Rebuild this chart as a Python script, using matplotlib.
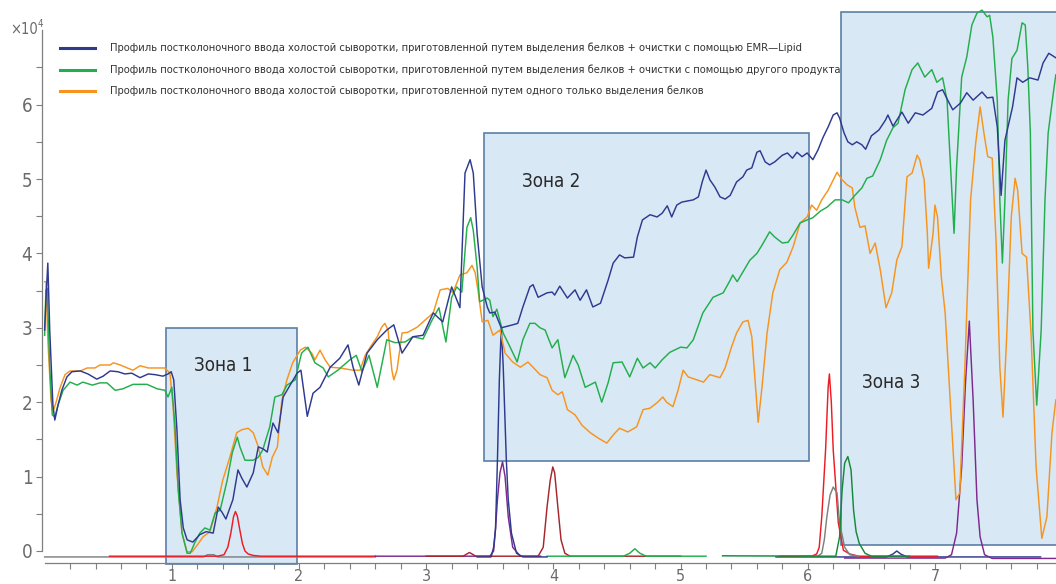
import numpy as np
import matplotlib
matplotlib.use("Agg")
import matplotlib.pyplot as plt
from matplotlib import font_manager as fm
from matplotlib.lines import Line2D
from matplotlib.patches import Rectangle

# ---------------------------------------------------------------- data
# Post-column infusion profiles (signal, x10^4) versus retention time (min)
emr_x = [0.0, 0.01, 0.025, 0.04, 0.065, 0.08, 0.105, 0.135, 0.175, 0.215, 0.28, 0.34, 0.41, 0.46,
         0.515, 0.575, 0.63, 0.685, 0.75, 0.815, 0.87, 0.93, 0.97, 0.995, 1.015, 1.04, 1.065, 1.09,
         1.12, 1.165, 1.22, 1.27, 1.325, 1.365, 1.395, 1.425, 1.48, 1.52, 1.55, 1.59, 1.64, 1.68,
         1.72, 1.75, 1.795, 1.835, 1.875, 1.93, 1.985, 2.015, 2.065, 2.11, 2.165, 2.245, 2.32, 2.385,
         2.425, 2.47, 2.535, 2.615, 2.69, 2.745, 2.81, 2.895, 2.975, 3.055, 3.13, 3.2, 3.265, 3.305,
         3.345, 3.37, 3.4, 3.44, 3.48, 3.5, 3.54, 3.59, 3.68, 3.72, 3.76, 3.815, 3.84, 3.88, 3.95,
         3.99, 4.01, 4.05, 4.11, 4.17, 4.21, 4.26, 4.31, 4.37, 4.43, 4.47, 4.52, 4.56, 4.63, 4.66,
         4.7, 4.76, 4.815, 4.855, 4.895, 4.93, 4.97, 5.01, 5.1, 5.14, 5.17, 5.2, 5.23, 5.27, 5.31,
         5.35, 5.39, 5.44, 5.49, 5.52, 5.56, 5.6, 5.625, 5.665, 5.7, 5.74, 5.8, 5.84, 5.88, 5.915,
         5.955, 5.995, 6.04, 6.08, 6.12, 6.16, 6.2, 6.23, 6.25, 6.285, 6.315, 6.35, 6.385, 6.425,
         6.455, 6.5, 6.56, 6.61, 6.63, 6.67, 6.74, 6.79, 6.845, 6.905, 6.975, 7.02, 7.06, 7.1, 7.14,
         7.2, 7.25, 7.3, 7.37, 7.41, 7.455, 7.49, 7.52, 7.55, 7.61, 7.645, 7.69, 7.745, 7.81, 7.85,
         7.895, 7.95]
emr_y = [2.97, 3.37, 3.87, 2.97, 1.96, 1.76, 1.96, 2.16, 2.34, 2.41, 2.42, 2.38, 2.31, 2.35,
         2.42, 2.41, 2.38, 2.39, 2.33, 2.38, 2.37, 2.35, 2.38, 2.41, 2.30, 1.63, 0.69, 0.31,
         0.15, 0.12, 0.22, 0.26, 0.24, 0.59, 0.52, 0.43, 0.69, 1.09, 0.98, 0.86, 1.05, 1.40,
         1.37, 1.33, 1.72, 1.59, 2.07, 2.23, 2.39, 2.43, 1.81, 2.12, 2.20, 2.47, 2.59, 2.77,
         2.47, 2.23, 2.66, 2.84, 2.97, 3.04, 2.66, 2.88, 2.90, 3.20, 3.08, 3.55, 3.27, 5.08,
         5.26, 5.08, 4.27, 3.55, 3.28, 3.20, 3.21, 3.00, 3.04, 3.06, 3.28, 3.55, 3.58, 3.41, 3.47,
         3.48, 3.44, 3.56, 3.40, 3.51, 3.37, 3.51, 3.28, 3.33, 3.64, 3.87, 3.98, 3.94, 3.95, 4.22,
         4.45, 4.52, 4.49, 4.54, 4.64, 4.49, 4.65, 4.69, 4.72, 4.76, 4.96, 5.12, 4.99, 4.89, 4.76,
         4.73, 4.78, 4.96, 5.03, 5.12, 5.15, 5.36, 5.38, 5.23, 5.19, 5.23, 5.32, 5.35, 5.28, 5.36,
         5.30, 5.35, 5.26, 5.39, 5.56, 5.70, 5.86, 5.89, 5.82, 5.62, 5.50, 5.46, 5.50, 5.46,
         5.40, 5.58, 5.66, 5.79, 5.86, 5.71, 5.90, 5.75, 5.89, 5.86, 5.95, 6.17, 6.20, 6.06, 5.93,
         6.02, 6.16, 6.06, 6.17, 6.09, 6.10, 5.70, 4.78, 5.52, 5.97, 6.36, 6.30, 6.36, 6.33, 6.56,
         6.69, 6.63]

other_x = [0.0, 0.01, 0.02, 0.04, 0.06, 0.08, 0.105, 0.145, 0.2, 0.255, 0.3, 0.375, 0.435, 0.49,
           0.555, 0.615, 0.695, 0.805, 0.885, 0.945, 0.97, 1.0, 1.025, 1.05, 1.08, 1.12, 1.145,
           1.18, 1.22, 1.26, 1.3, 1.34, 1.38, 1.435, 1.475, 1.515, 1.535, 1.575, 1.64, 1.68,
           1.715, 1.77, 1.81, 1.865, 1.905, 1.97, 2.02, 2.07, 2.125, 2.19, 2.23, 2.305, 2.4, 2.45,
           2.495, 2.55, 2.615, 2.69, 2.755, 2.835, 2.895, 2.975, 3.045, 3.1, 3.155, 3.2, 3.24,
           3.28, 3.32, 3.35, 3.37, 3.4, 3.42, 3.48, 3.5, 3.525, 3.555, 3.605, 3.66, 3.715, 3.76,
           3.815, 3.855, 3.895, 3.935, 3.99, 4.035, 4.09, 4.155, 4.195, 4.25, 4.33, 4.38, 4.43,
           4.47, 4.54, 4.6, 4.66, 4.705, 4.76, 4.8, 4.855, 4.915, 5.0, 5.05, 5.1, 5.175, 5.255,
           5.335, 5.39, 5.41, 5.445, 5.49, 5.545, 5.6, 5.64, 5.7, 5.74, 5.8, 5.845, 5.885, 5.94,
           5.995, 6.04, 6.1, 6.15, 6.215, 6.27, 6.32, 6.37, 6.425, 6.465, 6.51, 6.57, 6.62, 6.67,
           6.71, 6.765, 6.82, 6.865, 6.92, 6.975, 7.015, 7.06, 7.095, 7.125, 7.15, 7.17, 7.21,
           7.25, 7.29, 7.33, 7.37, 7.41, 7.43, 7.455, 7.49, 7.51, 7.53, 7.55, 7.575, 7.605, 7.645,
           7.685, 7.71, 7.73, 7.75, 7.77, 7.8, 7.835, 7.865, 7.89, 7.93, 7.95]
other_y = [2.90, 3.51, 3.53, 2.47, 1.83, 1.80, 1.96, 2.16, 2.27, 2.23, 2.27, 2.23, 2.26, 2.26,
           2.16, 2.18, 2.24, 2.24, 2.18, 2.16, 2.07, 2.20, 1.67, 0.82, 0.24, -0.03, -0.03,
           0.11, 0.24, 0.31, 0.28, 0.51, 0.55, 0.95, 1.32, 1.53, 1.40, 1.22, 1.22, 1.26,
           1.36, 1.67, 2.07, 2.10, 2.23, 2.30, 2.66, 2.74, 2.53, 2.46, 2.34, 2.43, 2.57, 2.63,
           2.41, 2.63, 2.20, 2.84, 2.80, 2.81, 2.88, 2.85, 3.10, 3.27, 2.81, 3.41, 3.55,
           3.48, 4.35, 4.48, 4.31, 3.82, 3.35, 3.40, 3.37, 3.15, 3.25, 2.93, 2.74, 2.54, 2.84,
           3.06, 3.06, 3.00, 2.97, 2.73, 2.84, 2.33, 2.63, 2.50, 2.20, 2.27, 2.00, 2.26,
           2.53, 2.54, 2.34, 2.59, 2.46, 2.53, 2.46, 2.57, 2.67, 2.74, 2.73, 2.84, 3.20, 3.41,
           3.47, 3.64, 3.71, 3.62, 3.75, 3.91, 4.00, 4.11, 4.29, 4.22, 4.14, 4.15, 4.25, 4.41,
           4.45, 4.48, 4.57, 4.62, 4.72, 4.72, 4.68, 4.78, 4.88, 5.01, 5.04, 5.26, 5.52, 5.69,
           5.75, 6.20, 6.47, 6.56, 6.37, 6.47, 6.30, 6.36, 6.06, 5.08, 4.27, 5.16, 6.37,
           6.64, 7.07, 7.23, 7.27, 7.18, 7.20, 6.91, 6.06, 4.72, 3.87, 4.72, 6.06, 6.62, 6.73,
           7.10, 7.07, 6.50, 5.62, 2.97, 1.96, 2.97, 4.72, 5.62, 6.15, 6.40]

ppt_x = [0.0, 0.01, 0.025, 0.05, 0.065, 0.09, 0.12, 0.16, 0.2, 0.28, 0.335, 0.395, 0.435, 0.515,
         0.54, 0.595, 0.65, 0.695, 0.75, 0.815, 0.885, 0.945, 0.985, 1.01, 1.04, 1.08, 1.12,
         1.16, 1.2, 1.245, 1.3, 1.355, 1.4, 1.456, 1.51, 1.55, 1.6, 1.64, 1.68, 1.715, 1.755,
         1.79, 1.83, 1.865, 1.905, 1.95, 2.01, 2.05, 2.1, 2.125, 2.165, 2.205, 2.245, 2.32,
         2.425, 2.48, 2.52, 2.56, 2.615, 2.65, 2.675, 2.7, 2.73, 2.745, 2.77, 2.81, 2.855, 2.93,
         2.975, 3.055, 3.11, 3.17, 3.21, 3.265, 3.32, 3.36, 3.385, 3.41, 3.44, 3.485, 3.525, 3.58,
         3.62, 3.68, 3.74, 3.8, 3.84, 3.895, 3.95, 3.99, 4.035, 4.07, 4.11, 4.17, 4.225, 4.29,
         4.35, 4.42, 4.47, 4.52, 4.585, 4.655, 4.705, 4.76, 4.82, 4.86, 4.89, 4.94, 4.98, 5.02,
         5.06, 5.13, 5.18, 5.23, 5.31, 5.35, 5.4, 5.44, 5.49, 5.53, 5.56, 5.585, 5.61, 5.64,
         5.68, 5.725, 5.78, 5.835, 5.885, 5.94, 5.995, 6.03, 6.07, 6.11, 6.16, 6.23, 6.27, 6.31,
         6.35, 6.37, 6.41, 6.45, 6.49, 6.53, 6.57, 6.615, 6.66, 6.7, 6.74, 6.78, 6.82, 6.86,
         6.88, 6.915, 6.94, 6.95, 6.985, 7.0, 7.02, 7.05, 7.08, 7.12, 7.165, 7.195, 7.235, 7.28,
         7.32, 7.355, 7.39, 7.415, 7.45, 7.48, 7.51, 7.535, 7.565, 7.6, 7.63, 7.65, 7.685, 7.72,
         7.755, 7.795, 7.84, 7.88, 7.92, 7.95]
ppt_y = [3.62, 3.62, 2.84, 2.03, 1.87, 2.00, 2.19, 2.37, 2.42, 2.42, 2.46, 2.46, 2.50, 2.50,
         2.53, 2.50, 2.46, 2.43, 2.49, 2.46, 2.46, 2.46, 2.39, 1.94, 1.05, 0.24, -0.01,
         -0.01, 0.08, 0.19, 0.26, 0.59, 0.95, 1.26, 1.59, 1.63, 1.65, 1.59, 1.40, 1.13, 1.02,
         1.26, 1.40, 2.03, 2.30, 2.53, 2.70, 2.74, 2.66, 2.57, 2.70, 2.57, 2.47, 2.46,
         2.43, 2.43, 2.63, 2.74, 2.88, 3.01, 3.06, 2.97, 2.43, 2.30, 2.43, 2.93, 2.94, 3.01,
         3.08, 3.20, 3.51, 3.53, 3.47, 3.71, 3.74, 3.84, 3.74, 3.47, 3.08, 3.10, 2.90, 2.97,
         2.66, 2.54, 2.47, 2.54, 2.47, 2.37, 2.33, 2.16, 2.10, 2.14, 1.90, 1.83, 1.69, 1.59,
         1.52, 1.45, 1.56, 1.65, 1.60, 1.67, 1.90, 1.92, 2.00, 2.07, 2.00, 1.94, 2.16, 2.43,
         2.34, 2.30, 2.27, 2.37, 2.33, 2.46, 2.74, 2.93, 3.08, 3.10, 2.88, 2.30, 1.73, 2.20,
         2.93, 3.47, 3.78, 3.88, 4.09, 4.41, 4.49, 4.65, 4.58, 4.72, 4.85, 5.09, 4.99, 4.92,
         4.88, 4.62, 4.35, 4.37, 4.00, 4.14, 3.78, 3.27, 3.47, 3.91, 4.09, 5.03, 5.08, 5.32,
         5.26, 4.99, 4.27, 3.80, 4.27, 4.65, 4.49, 3.68, 3.20, 2.03, 0.69, 0.78, 2.47, 4.72,
         5.48, 5.97, 5.56, 5.30, 5.28, 4.18, 2.47, 1.80, 2.93, 4.49, 5.01, 4.85, 4.00, 3.95,
         2.93, 1.13, 0.17, 0.46, 1.59, 2.03]

# Analyte chromatogram traces along the baseline
red_a_x = [0.51, 1.36, 1.41, 1.44, 1.465, 1.485, 1.5, 1.515, 1.535, 1.555, 1.575, 1.6, 1.64, 1.7, 2.6]
red_a_y = [-0.07, -0.07, -0.05, 0.05, 0.25, 0.46, 0.53, 0.47, 0.28, 0.10, 0.0, -0.04, -0.06, -0.07, -0.07]
red_b_x = [5.78, 6.03, 6.07, 6.09, 6.11, 6.14, 6.16, 6.17, 6.185, 6.2, 6.24, 6.28, 6.33, 6.4, 7.02]
red_b_y = [-0.07, -0.07, -0.04, 0.05, 0.46, 1.36, 2.2, 2.38, 2.0, 1.36, 0.38, 0.01, -0.04, -0.07, -0.07]
gray_a_x = [0.0, 1.25, 1.28, 1.33, 1.36, 2.6]
gray_a_y = [-0.08, -0.08, -0.05, -0.05, -0.08, -0.08]
gray_b_x = [5.95, 6.08, 6.11, 6.13, 6.15, 6.175, 6.2, 6.23, 6.25, 6.29, 6.33, 6.4]
gray_b_y = [-0.07, -0.07, -0.03, 0.15, 0.46, 0.75, 0.86, 0.78, 0.38, 0.05, -0.05, -0.07]
dkgreen_x = [5.33, 6.22, 6.25, 6.27, 6.29, 6.315, 6.34, 6.36, 6.38, 6.405, 6.45, 6.5, 6.8]
dkgreen_y = [-0.065, -0.07, 0.19, 0.82, 1.18, 1.27, 1.09, 0.55, 0.26, 0.10, -0.03, -0.07, -0.07]
ltgreen_x = [3.95, 4.55, 4.6, 4.64, 4.68, 4.73, 5.2]
ltgreen_y = [-0.07, -0.07, -0.03, 0.03, -0.03, -0.07, -0.07]
blue_a_x = [3.4, 3.51, 3.53, 3.545, 3.56, 3.575, 3.59, 3.605, 3.63, 3.645, 3.67, 3.71, 3.76, 3.95]
blue_a_y = [-0.08, -0.08, 0.05, 0.3, 1.22, 2.3, 3.0, 2.5, 1.22, 0.69, 0.24, -0.03, -0.08, -0.08]
blue_b_x = [5.75, 6.62, 6.67, 6.7, 6.73, 6.78, 7.83]
blue_b_y = [-0.08, -0.08, -0.04, 0.0, -0.04, -0.08, -0.08]
purple_a_x = [2.6, 3.5, 3.53, 3.545, 3.56, 3.58, 3.6, 3.62, 3.645, 3.68, 3.74, 3.9]
purple_a_y = [-0.07, -0.07, 0.0, 0.3, 0.69, 1.05, 1.20, 1.0, 0.46, 0.05, -0.07, -0.07]
purple_b_x = [6.29, 7.08, 7.13, 7.17, 7.21, 7.24, 7.27, 7.3, 7.33, 7.355, 7.39, 7.45, 7.95]
purple_b_y = [-0.095, -0.095, -0.05, 0.24, 1.13, 2.26, 3.09, 2.03, 0.69, 0.19, -0.05, -0.1, -0.1]
dkred_x = [3.0, 3.29, 3.34, 3.39, 3.88, 3.92, 3.95, 3.975, 3.995, 4.01, 4.035, 4.06, 4.09, 4.13, 5.0]
dkred_y = [-0.07, -0.07, -0.02, -0.07, -0.07, 0.05, 0.59, 0.95, 1.13, 1.05, 0.59, 0.15, -0.03, -0.07, -0.07]

# Highlighted zones: (x start, x end, y bottom, y top)
zone_names = ["Зона 1", "Зона 2", "Зона 3"]
zone_spans = [(0.955, 1.985, -0.175, 3.0), (3.455, 6.01, 1.21, 5.62), (6.26, 8.5, 0.08, 7.24)]
zone_label_pos = [(1.40, 2.50), (3.98, 4.96), (6.655, 2.27)]

legend_labels = [
    "Профиль постколоночного ввода холостой сыворотки, приготовленной путем выделения белков + очистки с помощью EMR—Lipid",
    "Профиль постколоночного ввода холостой сыворотки, приготовленной путем выделения белков + очистки с помощью другого продукта",
    "Профиль постколоночного ввода холостой сыворотки, приготовленной путем одного только выделения белков",
]

# ---------------------------------------------------------------- style
C_BLUE = "#2E3A8F"
C_GREEN = "#22AE4B"
C_ORANGE = "#F7941D"
C_RED = "#EC1C24"
C_GRAY = "#808080"
C_DKGREEN = "#138A3B"
C_PURPLE = "#7D2A8F"
C_DKRED = "#A6262C"
C_ZONE = "#D9E8F5"
C_ZONE_EDGE = "#5B7FA6"
C_AXIS = "#7F7F7F"
C_TICKTXT = "#6B6B6B"

entries = fm.fontManager.ttflist
if any(f.name == "Liberation Sans Narrow" for f in entries):
    FONT = dict(family="Liberation Sans Narrow")
elif any(f.name == "DejaVu Sans" and str(f.stretch) == "condensed" for f in entries):
    FONT = dict(family="DejaVu Sans", stretch="condensed")
else:
    FONT = dict(family="Roboto")

W, H = 1056, 584
fig = plt.figure(figsize=(W / 100, H / 100), dpi=100)
ax = fig.add_axes([42.1 / W, 1 - 562.9 / H, 1013.7 / W, 555.0 / H])
ax.set_xlim(-0.02, 7.95)
ax.set_ylim(-0.16, 7.3)

for (x0, x1, y0, y1) in zone_spans:
    ax.add_patch(Rectangle((x0, y0), x1 - x0, y1 - y0, facecolor=C_ZONE,
                           edgecolor=C_ZONE_EDGE, lw=1.2, zorder=1, clip_on=(x1 > 8)))
for name, (lx, ly) in zip(zone_names, zone_label_pos):
    ax.text(lx, ly, name, ha="center", va="center", fontsize=13.5, color="#2A2A2A",
            zorder=5, **FONT)

lw = 1.05
for xs, ys, c in [(gray_a_x, gray_a_y, C_GRAY), (red_a_x, red_a_y, C_RED),
                  (purple_a_x, purple_a_y, C_PURPLE), (dkred_x, dkred_y, C_DKRED),
                  (ltgreen_x, ltgreen_y, C_GREEN), (blue_a_x, blue_a_y, C_BLUE),
                  (blue_b_x, blue_b_y, C_BLUE), (purple_b_x, purple_b_y, C_PURPLE),
                  (red_b_x, red_b_y, C_RED), (gray_b_x, gray_b_y, C_GRAY),
                  (dkgreen_x, dkgreen_y, C_DKGREEN)]:
    ax.plot(xs, ys, color=c, lw=lw, zorder=2, solid_joinstyle="round")

ax.plot(ppt_x, ppt_y, color=C_ORANGE, lw=lw, zorder=3)
ax.plot(other_x, other_y, color=C_GREEN, lw=lw, zorder=3)
ax.plot(emr_x, emr_y, color=C_BLUE, lw=lw, zorder=3)

# axes
for s in ["top", "right"]:
    ax.spines[s].set_visible(False)
ax.spines["left"].set_bounds(0, 7)
ax.spines["bottom"].set_bounds(0, 7.95)
for s in ["left", "bottom"]:
    ax.spines[s].set_color(C_AXIS)
    ax.spines[s].set_linewidth(0.9)

yt = np.arange(0, 6.6, 0.5)
ax.set_yticks(yt)
ax.set_yticklabels([str(int(v)) if float(v).is_integer() else "" for v in yt])
xt = np.round(np.arange(0.2, 7.81, 0.2), 1)
ax.set_xticks(xt)
ax.set_xticklabels([str(int(round(v))) if abs(v - round(v)) < 1e-6 else "" for v in xt])
ax.tick_params(axis="both", direction="out", length=4, width=0.8, color=C_AXIS,
               labelcolor=C_TICKTXT, pad=3)
ax.tick_params(axis="x", pad=0.5)
for lab in ax.get_yticklabels():
    lab.set_fontproperties(fm.FontProperties(size=13.5, **FONT))
for lab in ax.get_xticklabels():
    lab.set_fontproperties(fm.FontProperties(size=11.5, **FONT))

fig.text(10 / W, 1 - 29 / H, "×10", fontsize=10.5, color=C_TICKTXT, va="center", ha="left", **FONT)
fig.text(37.5 / W, 1 - 24 / H, "4", fontsize=7, color=C_TICKTXT, va="center", ha="left", **FONT)

# legend drawn in figure pixels
rows = [47.7, 69.5, 90.5]
texts = []
for y, c, lab in zip(rows, [C_BLUE, C_GREEN, C_ORANGE], legend_labels):
    fig.add_artist(Line2D([60 / W, 95 / W], [1 - y / H] * 2, color=c, lw=2.2,
                          transform=fig.transFigure))
    texts.append(fig.text(110 / W, 1 - y / H, lab, fontsize=10, color="#333333",
                          va="center", ha="left", **FONT))
renderer = fig.canvas.get_renderer()
w0 = texts[0].get_window_extent(renderer).width
scale = 698.0 / w0
for t in texts:
    t.set_fontsize(10 * scale)

fig.savefig("out.png", dpi=100)
